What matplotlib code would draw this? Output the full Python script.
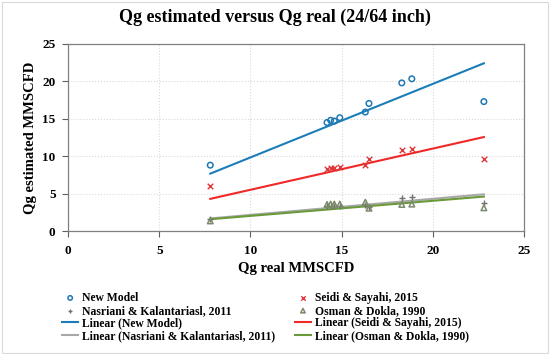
import numpy as np
import matplotlib
matplotlib.use('Agg')
import matplotlib.pyplot as plt
from matplotlib.patches import Rectangle

# Qg real (x) for the ten test points
qg_real = [7.8, 14.2, 14.4, 14.6, 14.9, 16.3, 16.5, 18.3, 18.85, 22.8]

# Qg estimated by each correlation
new_model = [8.8, 14.5, 14.8, 14.7, 15.15, 15.9, 17.05, 19.8, 20.35, 17.3]
seidi = [6.0, 8.3, 8.4, 8.4, 8.55, 8.8, 9.6, 10.8, 10.95, 9.65]
nasriani = [1.6, 3.35, 3.4, 3.4, 3.4, 3.5, 3.2, 4.35, 4.6, 3.75]
osman = [1.35, 3.55, 3.6, 3.6, 3.6, 3.85, 3.05, 3.55, 3.6, 3.1]

series = [
    ("New Model", new_model, 'o', '#1F78B4', '#1B7DB8'),
    ("Seidi & Sayahi, 2015", seidi, 'x', '#E0383A', '#F02828'),
    ("Nasriani & Kalantariasl, 2011", nasriani, '+', '#707070', '#A8A8A8'),
    ("Osman & Dokla, 1990", osman, '^', '#7A8A6A', '#6A9A3A'),
]

plt.rcParams['font.family'] = ['Liberation Serif', 'DejaVu Serif']
plt.rcParams['font.weight'] = 'bold'

fig = plt.figure(figsize=(5.5, 3.54), dpi=100)
ax = fig.add_axes([68 / 550, 1 - 231 / 354, 456 / 550, 187 / 354])

x = np.array(qg_real)
scatter_handles = []
line_handles = []
for name, vals, mk, mcol, lcol in series:
    if mk in ('o', '^'):
        h = ax.scatter(x, vals, marker=mk, s=16, facecolors='none', edgecolors=mcol,
                       linewidths=1.1, label=name, zorder=3)
    else:
        h = ax.scatter(x, vals, marker=mk, s=16, color=mcol, linewidths=1.0,
                       label=name, zorder=3)
    scatter_handles.append(h)
    # Excel-style linear trendline, intercept set to 0
    y = np.array(vals)
    k = np.sum(x * y) / np.sum(x * x)
    xs = np.array([x.min(), x.max()])
    ln, = ax.plot(xs, k * xs, color=lcol, lw=1.5, label=f"Linear ({name})", zorder=2)
    line_handles.append(ln)

ax.set_xlim(0, 25)
ax.set_ylim(0, 25)
ax.set_xticks(range(0, 26, 5))
ax.set_yticks(range(0, 26, 5))
ax.grid(True, color='#D9D9D9', linestyle=':', linewidth=0.8)
ax.set_axisbelow(True)
for s in ax.spines.values():
    s.set_color('#808080')
    s.set_linewidth(0.9)
ax.tick_params(direction='out', length=4, color='#606060', labelsize=9.5)
ax.tick_params(axis='x', pad=6)
ax.tick_params(axis='y', pad=5)
for lbl in ax.get_xticklabels() + ax.get_yticklabels():
    lbl.set_fontweight('bold')

ax.set_xlabel('Qg real MMSCFD', fontsize=10.5, fontweight='bold', labelpad=4)
ax.set_ylabel('Qg estimated MMSCFD', fontsize=10.5, fontweight='bold', labelpad=4)
fig.text(0.5, 1 - 17 / 354, 'Qg estimated versus Qg real (24/64 inch)',
         ha='center', va='center', fontsize=13, fontweight='bold')

handles = [scatter_handles[0], scatter_handles[2], line_handles[0], line_handles[2],
           scatter_handles[1], scatter_handles[3], line_handles[1], line_handles[3]]
fig.legend(handles=handles, labels=[h.get_label() for h in handles],
           loc='upper left', bbox_to_anchor=(62 / 550, 1 - 292 / 354), ncol=2,
           frameon=False, fontsize=8.4, handlelength=1.4, handletextpad=0.3,
           labelspacing=0.06, columnspacing=1.7, borderaxespad=0, markerscale=0.8,
           borderpad=0)

fig.add_artist(Rectangle((0.004, 0.004), 0.992, 0.99, transform=fig.transFigure,
                         fill=False, edgecolor='#D9D9D9', linewidth=0.8))

fig.savefig('out.png', dpi=100)
